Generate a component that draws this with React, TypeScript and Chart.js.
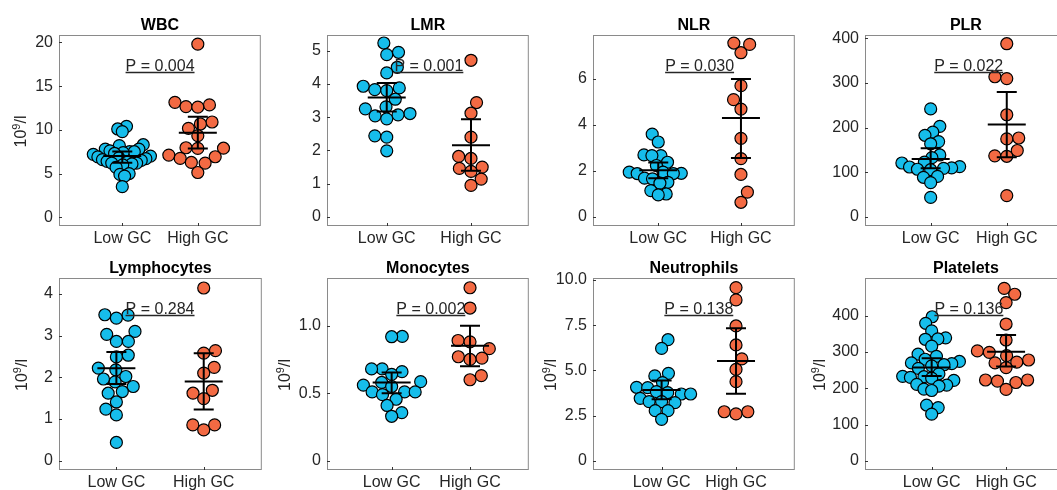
import React, { useEffect, useRef } from "react";
import { Chart, registerables } from "chart.js";

Chart.register(...registerables);
Chart.defaults.font.family = "'Liberation Sans', Arial, Helvetica, sans-serif";
Chart.defaults.font.size = 16;
Chart.defaults.color = "#262626";

// ---------- data ----------
const groups = ["Low GC", "High GC"];
const titles = ["WBC", "LMR", "NLR", "PLR", "Lymphocytes", "Monocytes", "Neutrophils", "Platelets"];
const pValues = ["0.004", "0.001", "0.030", "0.022", "0.284", "0.002", "0.138", "0.136"];

const wbcLow = [10.4, 10.1, 9.8, 8.3, 8.2, 7.8, 7.8, 7.6, 7.5, 7.5, 7.4, 7.3, 7.2, 7.0, 6.9, 6.8, 6.7, 6.6, 6.5, 6.4, 6.3, 6.2, 6.2, 6.1, 6.0, 5.7, 5.0, 4.9, 4.7, 3.5];
const wbcHigh = [19.8, 13.15, 12.85, 12.66, 12.6, 10.9, 10.67, 10.17, 9.33, 7.95, 7.9, 7.88, 7.11, 6.92, 6.73, 6.27, 6.2, 5.12];
const lmrLow = [5.23, 4.95, 4.88, 4.5, 4.33, 3.93, 3.88, 3.83, 3.8, 3.54, 3.31, 3.25, 3.11, 3.07, 3.04, 2.95, 2.44, 2.4, 1.99];
const lmrHigh = [4.71, 3.44, 3.12, 2.4, 1.82, 1.76, 1.5, 1.46, 1.37, 1.14, 0.95];
const nlrLow = [3.6, 3.26, 2.7, 2.67, 2.67, 2.38, 2.24, 1.95, 1.95, 1.9, 1.89, 1.89, 1.69, 1.66, 1.51, 1.47, 1.15, 1.0, 0.96];
const nlrHigh = [7.56, 7.5, 7.14, 5.71, 5.1, 4.69, 3.42, 2.54, 1.85, 1.08, 0.64];
const plrLow = [242, 203, 190, 183, 169, 164, 139, 133, 123, 121, 113, 112, 110, 109, 107, 106, 91, 89, 77, 44];
const plrHigh = [388, 314, 310, 229, 177, 175, 149, 137, 136, 48];
const lymLow = [3.5, 3.49, 3.42, 3.1, 3.03, 2.86, 2.86, 2.53, 2.49, 2.22, 2.18, 2.02, 1.96, 1.89, 1.78, 1.66, 1.62, 1.41, 1.24, 1.1, 0.44];
const lymHigh = [4.14, 2.64, 2.58, 2.24, 2.1, 1.69, 1.62, 1.49, 0.86, 0.86, 0.74];
const monoLow = [0.92, 0.918, 0.68, 0.68, 0.66, 0.64, 0.586, 0.58, 0.56, 0.55, 0.51, 0.51, 0.51, 0.49, 0.456, 0.41, 0.357, 0.33];
const monoHigh = [1.28, 1.13, 0.89, 0.88, 0.83, 0.77, 0.76, 0.75, 0.63, 0.6];
const neuLow = [6.7, 6.22, 4.84, 4.7, 4.33, 4.07, 4.05, 3.83, 3.78, 3.7, 3.7, 3.46, 3.28, 3.28, 3.22, 2.78, 2.78, 2.3];
const neuHigh = [9.58, 8.9, 7.46, 6.41, 5.64, 5.06, 4.38, 2.72, 2.72, 2.6];
const pltLow = [397, 379, 358, 339, 336, 335, 316, 294, 288, 280, 274, 270, 268, 265, 262, 255, 240, 233, 232, 230, 228, 222, 211, 209, 206, 198, 194, 154, 147, 129];
const pltHigh = [475, 459, 436, 377, 333, 303, 299, 290, 278, 272, 270, 257, 223, 223, 220, 216, 197];

// mean, lower, upper
const wbcBars = [[7.0, 6.23, 7.51], [9.67, 7.88, 11.51]];
const lmrBars = [[3.59, 3.17, 4.03], [2.16, 1.39, 2.94]];
const nlrBars = [[2.03, 1.69, 2.37], [4.3, 2.57, 6.0]];
const plrBars = [[130, 109, 154], [207, 134, 280]];
const lymBars = [[2.22, 1.84, 2.61], [1.9, 1.23, 2.58]];
const monoBars = [[0.58, 0.5, 0.653], [0.852, 0.7, 1.0]];
const neuBars = [[3.92, 3.41, 4.44], [5.52, 3.72, 7.33]];
const pltBars = [[257, 234, 283], [301, 260, 347]];

const wbcTicks = [0, 5, 10, 15, 20];
const lmrTicks = [0, 1, 2, 3, 4, 5];
const nlrTicks = [0, 2, 4, 6];
const plrTicks = [0, 100, 200, 300, 400];
const lymTicks = [0, 1, 2, 3, 4];
const monoTicks = [0, 0.5, 1.0];
const neuTicks = [0, 2.5, 5.0, 7.5, 10.0];
const pltTicks = [0, 100, 200, 300, 400];

const wbcRange = [-1.0, 20.85];
const lmrRange = [-0.27, 5.47];
const nlrRange = [-0.39, 7.91];
const plrRange = [-20, 407.5];
const lymRange = [-0.22, 4.38];
const monoRange = [-0.067, 1.352];
const neuRange = [-0.5, 10.11];
const pltRange = [-24.8, 503.7];

// ---------- style / layout ----------
const BLUE = "#16BDEB";
const ORANGE = "#F36A43";
const TXT = "#262626";
const PADT = 36;
const YW = 56;
const XH = 26;
const PADR = 4;
const DIAM = 12;
const MAXHALF = 29;

type Panel = {
  low: number[]; high: number[]; bars: number[][]; ticks: number[]; range: number[];
  dec: number; box: number[]; xr: number[]; yTitleX: number | null;
};

const panels: Panel[] = [
  { low: wbcLow, high: wbcHigh, bars: wbcBars, ticks: wbcTicks, range: wbcRange, dec: 0, box: [59, 35, 264, 226], xr: [0.162, 2.834], yTitleX: 26 },
  { low: lmrLow, high: lmrHigh, bars: lmrBars, ticks: lmrTicks, range: lmrRange, dec: 0, box: [327, 35, 532, 226], xr: [0.291, 2.686], yTitleX: null },
  { low: nlrLow, high: nlrHigh, bars: nlrBars, ticks: nlrTicks, range: nlrRange, dec: 0, box: [593, 35, 798, 226], xr: [0.211, 2.651], yTitleX: null },
  { low: plrLow, high: plrHigh, bars: plrBars, ticks: plrTicks, range: plrRange, dec: 0, box: [865, 35, 1070, 226], xr: [0.137, 2.789], yTitleX: null },
  { low: lymLow, high: lymHigh, bars: lymBars, ticks: lymTicks, range: lymRange, dec: 0, box: [59, 278, 265, 470], xr: [0.343, 2.665], yTitleX: 27 },
  { low: monoLow, high: monoHigh, bars: monoBars, ticks: monoTicks, range: monoRange, dec: 1, box: [327, 278, 532, 470], xr: [0.175, 2.75], yTitleX: 290 },
  { low: neuLow, high: neuHigh, bars: neuBars, ticks: neuTicks, range: neuRange, dec: 1, box: [593, 278, 798, 470], xr: [0.078, 2.79], yTitleX: 556 },
  { low: pltLow, high: pltHigh, bars: pltBars, ticks: pltTicks, range: pltRange, dec: 0, box: [865, 278, 1070, 470], xr: [0.104, 2.816], yTitleX: 825 },
];

// beeswarm offsets (pixels) computed from the points' pixel heights,
// then compressed so that the swarm stays within MAXHALF px of the centre
function swarm(pys: number[], d: number, maxHalf: number): number[] {
  const order = pys.map((_, i) => i).sort((a, b) => pys[b] - pys[a]);
  const placed: { x: number; y: number }[] = [];
  const out = new Array(pys.length).fill(0);
  let flip = 1;
  for (const i of order) {
    const y = pys[i];
    const nb = placed.filter((p) => Math.abs(p.y - y) < d);
    const cands = [0];
    for (const p of nb) {
      const dx = Math.sqrt(d * d - (p.y - y) * (p.y - y));
      cands.push(p.x + dx, p.x - dx);
    }
    cands.sort((a, b) => Math.abs(a) - Math.abs(b) || (a - b) * flip);
    flip = -flip;
    let chosen = 0;
    for (const c of cands) {
      if (nb.every((p) => (p.x - c) ** 2 + (p.y - y) ** 2 >= d * d - 0.01)) { chosen = c; break; }
    }
    placed.push({ x: chosen, y });
    out[i] = chosen;
  }
  const m = Math.max(1e-6, ...out.map((v) => Math.abs(v)));
  const k = m > maxHalf ? maxHalf / m : 1;
  return out.map((v) => v * k);
}

function PanelChart({ p, idx }: { p: Panel; idx: number }) {
  const ref = useRef<HTMLCanvasElement>(null);
  const [l, t, r, b] = p.box;
  const W = r - l + YW + PADR;
  const H = b - t + PADT + XH;

  useEffect(() => {
    const decor = {
      id: "decor" + idx,
      afterDatasetsDraw(chart: any) {
        const { ctx, chartArea: a, scales } = chart;
        const xs = scales.x, ys = scales.y;
        ctx.save();
        ctx.strokeStyle = "#000";
        ctx.lineWidth = 2;
        p.bars.forEach((bar, gi) => {
          const cx = xs.getPixelForValue(gi + 1);
          const ym = ys.getPixelForValue(bar[0]);
          const yl = ys.getPixelForValue(bar[1]);
          const yh = ys.getPixelForValue(bar[2]);
          ctx.beginPath();
          ctx.moveTo(cx - 19, ym); ctx.lineTo(cx + 19, ym);
          ctx.moveTo(cx, yl); ctx.lineTo(cx, yh);
          ctx.moveTo(cx - 10, yl); ctx.lineTo(cx + 10, yl);
          ctx.moveTo(cx - 10, yh); ctx.lineTo(cx + 10, yh);
          ctx.stroke();
        });
        const mid = (xs.getPixelForValue(1) + xs.getPixelForValue(2)) / 2;
        const lineY = a.top + 37.5;
        const txt = "P = " + pValues[idx];
        ctx.font = "16px 'Liberation Sans', Arial, sans-serif";
        ctx.fillStyle = TXT;
        ctx.textAlign = "center";
        ctx.textBaseline = "alphabetic";
        ctx.fillText(txt, mid, lineY - 1.5);
        const w = ctx.measureText(txt).width;
        ctx.strokeStyle = TXT;
        ctx.lineWidth = 1.3;
        ctx.beginPath();
        ctx.moveTo(mid - w / 2, lineY);
        ctx.lineTo(mid + w / 2, lineY);
        ctx.stroke();
        ctx.restore();
      },
      afterDraw(chart: any) {
        const { ctx, chartArea: a, scales } = chart;
        const xs = scales.x, ys = scales.y;
        ctx.save();
        ctx.strokeStyle = "#8a8a8a";
        ctx.lineWidth = 1;
        ctx.strokeRect(a.left + 0.5, a.top + 0.5, a.right - a.left - 1, a.bottom - a.top - 1);
        ctx.strokeStyle = "#333";
        ctx.beginPath();
        p.ticks.forEach((v) => {
          const yy = Math.round(ys.getPixelForValue(v)) + 0.5;
          ctx.moveTo(a.left, yy); ctx.lineTo(a.left + 3, yy);
        });
        [1, 2].forEach((v) => {
          const xx = Math.round(xs.getPixelForValue(v)) + 0.5;
          ctx.moveTo(xx, a.bottom); ctx.lineTo(xx, a.bottom - 3);
        });
        ctx.stroke();
        ctx.fillStyle = "#000";
        ctx.font = "bold 16px 'Liberation Sans', Arial, sans-serif";
        ctx.textAlign = "center";
        ctx.textBaseline = "alphabetic";
        ctx.fillText(titles[idx], (a.left + a.right) / 2, a.top - 5);
        if (p.yTitleX !== null) {
          const bx = p.yTitleX - (l - YW);
          const cy = (a.top + a.bottom) / 2 + 1;
          ctx.translate(bx, cy);
          ctx.rotate(-Math.PI / 2);
          ctx.fillStyle = TXT;
          const f1 = "16px 'Liberation Sans', Arial, sans-serif";
          const f2 = "11px 'Liberation Sans', Arial, sans-serif";
          ctx.font = f1; const w1 = ctx.measureText("10").width; const w3 = ctx.measureText("/l").width;
          ctx.font = f2; const w2 = ctx.measureText("9").width;
          let x0 = -(w1 + w2 + w3) / 2;
          ctx.textAlign = "left";
          ctx.font = f1; ctx.fillText("10", x0, 0); x0 += w1;
          ctx.font = f2; ctx.fillText("9", x0, -6); x0 += w2;
          ctx.font = f1; ctx.fillText("/l", x0, 0);
        }
        ctx.restore();
      },
    };

    const chart = new Chart(ref.current as HTMLCanvasElement, {
      type: "scatter",
      data: {
        datasets: [
          { data: p.low.map((v) => ({ x: 1, y: v })), backgroundColor: BLUE, borderColor: "#000", borderWidth: 1.2, pointRadius: 6, pointHoverRadius: 6 },
          { data: p.high.map((v) => ({ x: 2, y: v })), backgroundColor: ORANGE, borderColor: "#000", borderWidth: 1.2, pointRadius: 6, pointHoverRadius: 6 },
        ],
      },
      options: {
        responsive: false,
        animation: false,
        events: [],
        layout: { padding: { top: PADT, right: PADR, left: 0, bottom: 0 } },
        plugins: { legend: { display: false }, tooltip: { enabled: false }, title: { display: false } },
        scales: {
          x: {
            type: "linear",
            min: p.xr[0],
            max: p.xr[1],
            grid: { display: false, drawTicks: false, tickLength: 0 },
            border: { display: false },
            afterBuildTicks: (s: any) => { s.ticks = [{ value: 1 }, { value: 2 }]; },
            afterFit: (s: any) => { s.height = XH; },
            ticks: {
              padding: 3, color: TXT, autoSkip: false, maxRotation: 0, minRotation: 0,
              font: { size: 16 },
              callback: (v: any) => groups[Math.round(Number(v)) - 1] ?? "",
            },
          },
          y: {
            type: "linear",
            min: p.range[0],
            max: p.range[1],
            grid: { display: false, drawTicks: false, tickLength: 0 },
            border: { display: false },
            afterBuildTicks: (s: any) => { s.ticks = p.ticks.map((v) => ({ value: v })); },
            afterFit: (s: any) => { s.width = YW; },
            ticks: {
              padding: 6, color: TXT, autoSkip: false,
              font: { size: 16 },
              callback: (v: any) => (Number(v) === 0 ? "0" : Number(v).toFixed(p.dec)),
            },
          },
        },
      } as any,
      plugins: [decor],
    });

    const xs: any = chart.scales.x;
    const ys: any = chart.scales.y;
    const pxPerUnit = xs.getPixelForValue(2) - xs.getPixelForValue(1);
    [p.low, p.high].forEach((vals, di) => {
      const offs = swarm(vals.map((v) => ys.getPixelForValue(v)), DIAM, MAXHALF);
      (chart.data.datasets[di] as any).data = vals.map((v, i) => ({ x: di + 1 + offs[i] / pxPerUnit, y: v }));
    });
    chart.update();

    return () => chart.destroy();
  }, []);

  return (
    <canvas
      ref={ref}
      width={W}
      height={H}
      style={{ position: "absolute", left: l - YW, top: t - PADT, width: W, height: H }}
    />
  );
}

export default function App() {
  return (
    <div style={{ position: "absolute", left: 0, top: 0, width: 1057, height: 490, overflow: "hidden", background: "#fff" }}>
      {panels.map((p, i) => (
        <PanelChart key={i} p={p} idx={i} />
      ))}
    </div>
  );
}
